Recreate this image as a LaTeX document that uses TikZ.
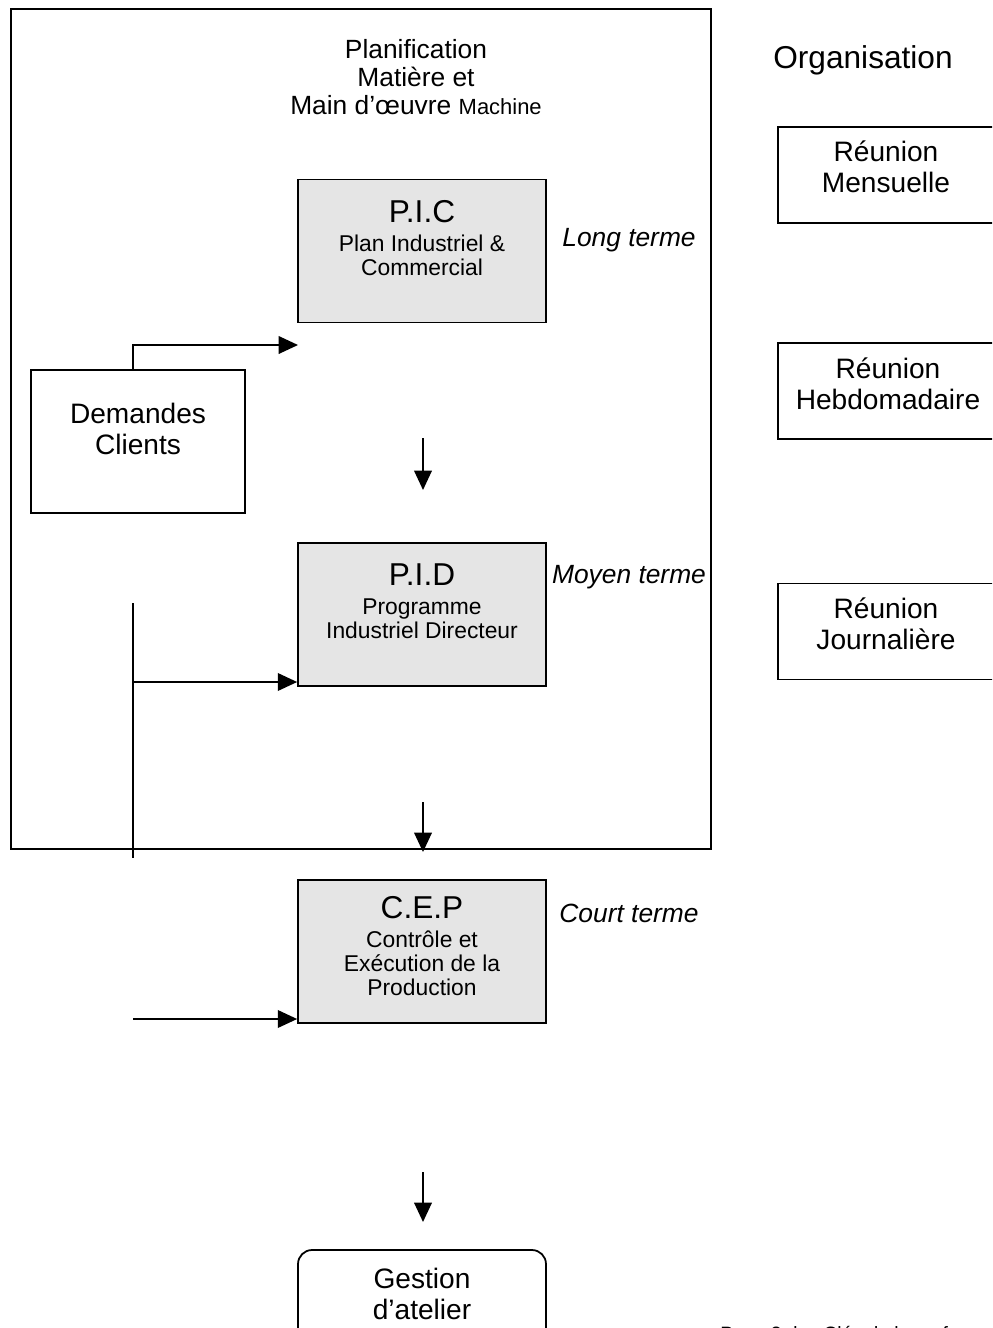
\documentclass[tikz,border=0pt]{standalone}
\usepackage{fontspec}
\setmainfont{Liberation Sans}
\usetikzlibrary{arrows.meta}
\begin{document}
\begin{tikzpicture}[x=0.02cm,y=-0.02cm,
  box/.style={draw, line width=1pt, minimum width=4.96cm, minimum height=2.86cm, inner sep=0},
  graybox/.style={box, fill=black!10},
  sidebox/.style={draw, line width=1pt, minimum width=4.34cm, minimum height=1.92cm, inner sep=0},
  arr/.style={line width=1pt, -{Triangle[length=11pt,width=10pt]}},
  ln/.style={line width=1pt},
  txt/.style={align=center, inner sep=0},
  big/.style={txt, font=\fontsize{16}{17.5}\selectfont},
  small/.style={txt, font=\fontsize{13}{13.6}\selectfont},
  term/.style={txt, font=\fontsize{15}{16}\selectfont\itshape},
]
\useasboundingbox (0,0) rectangle (992,1328);
\clip (0,0) rectangle (992,1328);

% frame
\node[draw, line width=1pt, minimum width=14cm, minimum height=16.8cm, inner sep=0, anchor=north west] (frame) at (10,8) {};

\node[txt, font=\fontsize{15}{16}\selectfont] (plan) at (416,77) {Planification\\Matière et\\Main d’œuvre {\fontsize{12.5}{16}\selectfont Machine}};
\node[txt, font=\fontsize{18}{20}\selectfont] (org) at (863,60) {Organisation};

% P.I.C
\node[graybox] (pic) at (422,251) {};
\node[small] (pict) at (422,238) {{\fontsize{18}{18}\selectfont P.I.C}\\[2.7pt]Plan Industriel \&\\Commercial};
\node[term] (lt) at (629,240) {Long terme};

% Demandes clients
\node[draw, line width=1pt, minimum width=4.28cm, minimum height=2.86cm, inner sep=0] (dem) at (138,441.5) {};
\node[big] (demt) at (138,429) {Demandes\\Clients};
\coordinate (a1) at (298,345);
\draw[arr] ([xshift=-0.1cm]dem.north) |- (a1);

\coordinate (v1s) at (423,438);
\coordinate (v1e) at (423,490);
\draw[arr] (v1s) -- (v1e);

% P.I.D
\node[graybox] (pid) at (422,614.5) {};
\node[small] (pidt) at (422,601) {{\fontsize{18}{18}\selectfont P.I.D}\\[2.7pt]Programme\\Industriel Directeur};
\node[term] (mt) at (629,577) {Moyen terme};

\coordinate (l1) at (133,603);
\coordinate (l2) at (133,858);
\draw[ln] (l1) -- (l2);
\coordinate (b1) at (133,682);
\draw[arr] (b1) -- (b1 -| pid.west);

\coordinate (v2s) at (423,802);
\coordinate (v2e) at (423,852);
\draw[arr] (v2s) -- (v2e);

% C.E.P
\node[graybox] (cep) at (422,951.5) {};
\node[small] (cept) at (422,946) {{\fontsize{18}{18}\selectfont C.E.P}\\[2.7pt]Contrôle et\\Exécution de la\\Production};
\node[term] (ct) at (629,913) {Court terme};

\coordinate (b2) at (133,1019);
\draw[arr] (b2) -- (b2 -| cep.west);

\coordinate (v3s) at (423,1172);
\coordinate (v3e) at (423,1222);
\draw[arr] (v3s) -- (v3e);

% Gestion d'atelier
\node[draw, line width=1pt, rounded corners=0.28cm, minimum width=4.96cm, minimum height=1.9cm, inner sep=0] (gest) at (422,1297.5) {};
\node[big] (gestt) at (422,1294) {Gestion\\d’atelier};

% Reunions
\node[sidebox] (r1) at (886.5,175) {};
\node[big] (r1t) at (886,167) {Réunion\\Mensuelle};
\node[sidebox] (r2) at (886.5,391) {};
\node[big] (r2t) at (888,383.5) {Réunion\\Hebdomadaire};
\node[sidebox] (r3) at (886.5,631.5) {};
\node[big] (r3t) at (886,624) {Réunion\\Journalière};

% footer (cut off at the page edge, as in the reference)
\node[anchor=base west, inner sep=0, font=\fontsize{11}{12}\selectfont] (foot) at (720,1340) {Page 3 des Clés de la performance};
\end{tikzpicture}
\end{document}
